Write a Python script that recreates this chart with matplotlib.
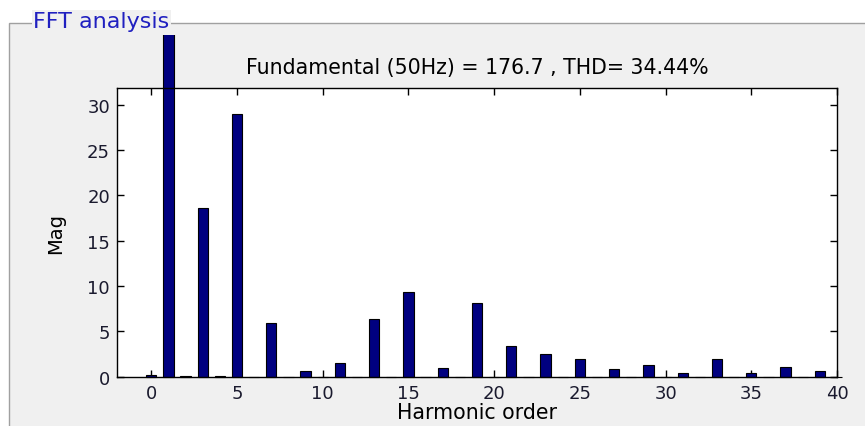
import matplotlib
matplotlib.use("Agg")
import matplotlib.pyplot as plt
from matplotlib.patches import Rectangle
from matplotlib.transforms import Bbox, TransformedBbox

plt.rcParams['font.family'] = ['DejaVu Sans']

harmonic_order = list(range(0, 41))
magnitude = [0.2, 176.7, 0.1, 18.6, 0.1, 29.0, 0.0, 5.9, 0.0, 0.6,
             0.0, 1.5, 0.0, 6.4, 0.0, 9.3, 0.0, 0.95, 0.0, 8.1,
             0.0, 3.4, 0.0, 2.45, 0.0, 1.98, 0.0, 0.9, 0.0, 1.24,
             0.0, 0.44, 0.0, 1.98, 0.0, 0.44, 0.0, 1.07, 0.0, 0.63,
             0.0]
title_text = "Fundamental (50Hz) = 176.7 , THD= 34.44%"
x_ticks = [0, 5, 10, 15, 20, 25, 30, 35, 40]
y_ticks = [0, 5, 10, 15, 20, 25, 30]

W, H = 865, 427
fig = plt.figure(figsize=(W / 100, H / 100), dpi=100)
fig.patch.set_facecolor('white')

# panel
panel = Rectangle((9 / W, -0.1), 1.2, (H - 24) / H + 0.1, transform=fig.transFigure,
                  facecolor='#f0f0f0', edgecolor='#a0a0a0', linewidth=1.0, zorder=-5)
fig.patches.append(panel)
fig.text(33 / W, 1 - 22 / H, "FFT analysis", color='#2020c0', fontsize=16,
         va='center', ha='left', zorder=-4,
         bbox=dict(facecolor='#f0f0f0', edgecolor='none', pad=1.0))

ax = fig.add_axes([117 / W, 1 - 377.7 / H, (837 - 117) / W, (377.7 - 89.3) / H])
ax.set_zorder(1)
ax.set_facecolor('white')
bars = ax.bar(harmonic_order, magnitude, width=0.6, color='#000080',
              edgecolor='black', linewidth=0.8, zorder=2)
clipbox = TransformedBbox(Bbox([[0, 0], [1, (H - 36) / H]]), fig.transFigure)
for b in bars:
    b.set_clip_on(True)
    b.set_clip_box(clipbox)

ax.set_xlim(-2, 40)
ax.set_ylim(0, 31.8)
ax.set_xticks(x_ticks)
ax.set_yticks(y_ticks)
ax.tick_params(direction='in', length=5, width=1, top=True, right=True,
               labelsize=13, colors='black', pad=5)
for lab in ax.get_xticklabels() + ax.get_yticklabels():
    lab.set_color('#1a1a2e')
for s in ax.spines.values():
    s.set_linewidth(1.0)

ax.set_title(title_text, fontsize=14.8, pad=11)
ax.set_xlabel("Harmonic order", fontsize=14.8, labelpad=0)
ax.set_ylabel("Mag", fontsize=14, labelpad=16)

fig.savefig("out.png", dpi=100, facecolor=fig.get_facecolor())
